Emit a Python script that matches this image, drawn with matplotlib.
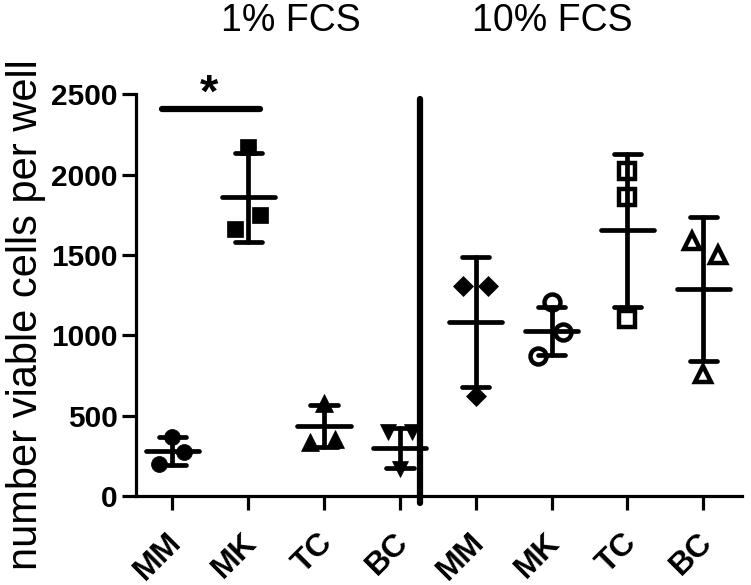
import numpy as np
import matplotlib
matplotlib.use('Agg')
import matplotlib.pyplot as plt
import matplotlib.transforms as mtransforms

plt.rcParams['font.family'] = ['Liberation Sans', 'DejaVu Sans']

# cell types, 1% FCS group then 10% FCS group
labels = ['MM', 'MK', 'TC', 'BC', 'MM', 'MK', 'TC', 'BC']

# individual wells (viable cells per well)
mm_1 = [199, 274, 370]
mk_1 = [2171, 1748, 1661]
tc_1 = [336, 355, 580]
bc_1 = [398, 398, 168]
mm_10 = [1306, 1306, 622]
mk_10 = [1207, 1020, 871]
tc_10 = [2022, 1860, 1101]
bc_10 = [1586, 1499, 759]

# mean and SD as drawn
means = [280, 1860, 436, 299, 1082, 1026, 1654, 1287]
sds = [87, 277, 130, 127, 404, 150, 476, 447]

groups = [mm_1, mk_1, tc_1, bc_1, mm_10, mk_10, tc_10, bc_10]

# marker style per group: (marker, filled, size)
styles = [('o', True, 11.5), ('s', True, 12), ('^', True, 12.5), ('v', True, 12),
          ('D', True, 10), ('o', False, 11.5), ('s', False, 12), ('^', False, 12)]
# horizontal scatter of the points
jitter = [[-0.17, 0.16, 0.0], [0.0, 0.15, -0.17], [-0.18, 0.15, 0.0], [-0.16, 0.16, 0.0],
          [-0.17, 0.16, 0.0], [0.0, 0.15, -0.18], [0.0, 0.0, 0.0], [-0.15, 0.2, 0.0]]

fig = plt.figure(figsize=(7.51, 5.85), dpi=100)
ax = fig.add_axes([0.181, 0.152, 0.807, 0.687])

x = np.arange(len(labels))
for i in range(len(groups)):
    mk, filled, ms = styles[i]
    xs = x[i] + np.array(jitter[i])
    if filled:
        ax.plot(xs, groups[i], linestyle='none', marker=mk, ms=ms, mfc='black',
                mec='black', mew=0.5, zorder=2, clip_on=False)
    else:
        ax.plot(xs, groups[i], linestyle='none', marker=mk, ms=ms, mfc='white',
                mec='black', mew=3.2, zorder=2, clip_on=False)

# mean line and SD whiskers
lw = 3.4
for i in range(len(groups)):
    ax.plot([x[i] - 0.35, x[i] + 0.35], [means[i], means[i]], color='black', lw=lw,
            solid_capstyle='round', zorder=3)
    ax.plot([x[i], x[i]], [means[i] - sds[i], means[i] + sds[i]], color='black', lw=lw,
            solid_capstyle='round', zorder=3)
    for y in [means[i] - sds[i], means[i] + sds[i]]:
        ax.plot([x[i] - 0.18, x[i] + 0.18], [y, y], color='black', lw=lw,
                solid_capstyle='round', zorder=3)

# divider between the two FCS groups
ax.plot([3.27, 3.27], [-45, 2470], color='black', lw=4.5, solid_capstyle='round',
        clip_on=False, zorder=4)

# significance bar MM vs MK (1% FCS)
ax.plot([-0.14, 1.15], [2407, 2407], color='black', lw=4.5, solid_capstyle='round',
        clip_on=False)
ax.text(0.49, 2495, '*', ha='center', va='center', fontsize=34, fontweight='bold')

ax.set_xlim(-0.48, 7.51)
ax.set_ylim(0, 2500)
ax.set_yticks([0, 500, 1000, 1500, 2000, 2500])
ax.set_xticks(x)
ax.set_xticklabels(labels, rotation=45, ha='right', va='center', rotation_mode='anchor',
                   fontsize=23, fontweight='bold')
for t in ax.get_yticklabels():
    t.set_fontsize(21.5)
    t.set_fontweight('bold')

ax.spines['top'].set_visible(False)
ax.spines['right'].set_visible(False)
ax.spines['left'].set_linewidth(2.3)
ax.spines['bottom'].set_linewidth(2.3)
ax.tick_params(axis='both', direction='out', length=10, width=2.3)
ax.tick_params(axis='y', pad=3)
ax.tick_params(axis='x', pad=20)

offset = mtransforms.ScaledTranslation(3 / 72, 0, fig.dpi_scale_trans)
for t in ax.get_xticklabels():
    t.set_transform(t.get_transform() + offset)

fig.text(291 / 751, 1 - 21 / 585, '1% FCS', ha='center', va='center', fontsize=27)
fig.text(552 / 751, 1 - 21 / 585, '10% FCS', ha='center', va='center', fontsize=27)
fig.text(26 / 751, 1 - 315 / 585, 'number viable cells per well', rotation=90,
         ha='center', va='center', fontsize=30)

fig.savefig('out.png', dpi=100)
